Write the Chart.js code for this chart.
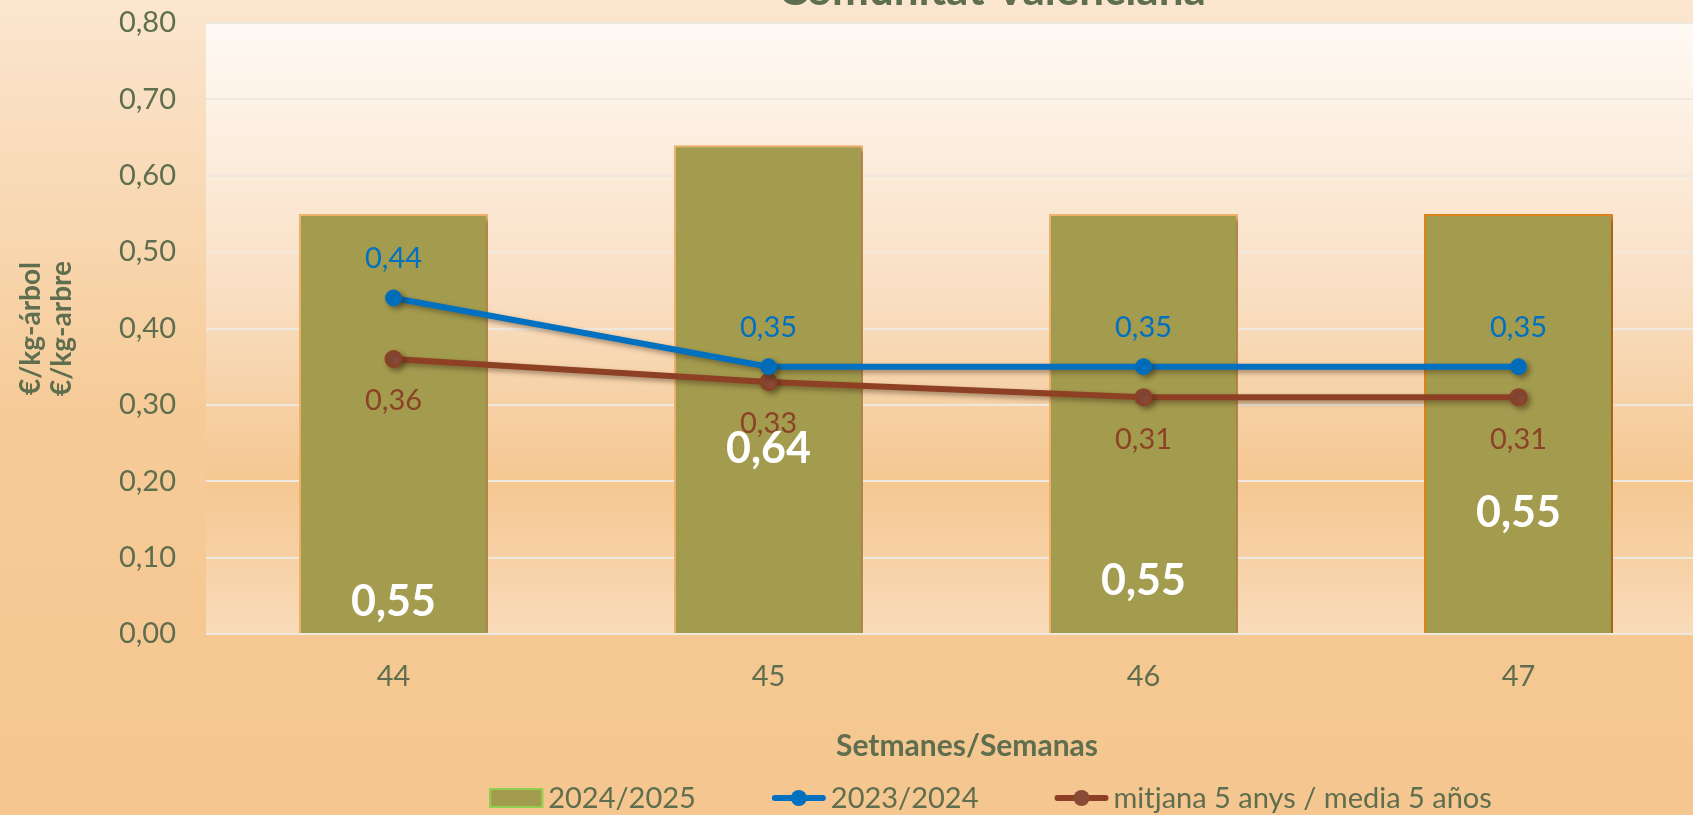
<!DOCTYPE html>
<html><head><meta charset="utf-8">
<script src="https://cdn.jsdelivr.net/npm/chart.js@4.4.1/dist/chart.umd.min.js"></script>
<style>
html,body{margin:0;padding:0;overflow:hidden;width:1693px;height:815px;background:#F5C68F;}
#wrap{position:absolute;left:0;top:0;width:1720px;height:815px;}
</style></head><body>
<div id="wrap"><canvas id="c"></canvas></div>
<script>
const TITLE = 'Comunitat Valenciana';
const weeks = ['44', '45', '46', '47'];
const season2425 = [0.55, 0.64, 0.55, 0.55];
const season2324 = [0.44, 0.35, 0.35, 0.35];
const avg5y = [0.36, 0.33, 0.31, 0.31];
const seriesNames = ['2024/2025', '2023/2024', 'mitjana 5 anys / media 5 años'];
const yAxisTitle = ['€/kg-árbol', '€/kg-arbre'];
const xAxisTitle = 'Setmanes/Semanas';
// where the white bar-value labels sit (axis units), as placed in the reference
const barLabelAt = [0.042, 0.242, 0.069, 0.158];

const GREEN = '#5E6E4E';
const FONT = 'Lato, "Open Sans", sans-serif';
const fmt = v => v.toFixed(2).replace('.', ',');

const bgPlugin = {
  id: 'bg',
  beforeDraw(chart) {
    const {ctx, width, height, chartArea: a} = chart;
    ctx.save();
    let g = ctx.createLinearGradient(0, 0, 0, height);
    g.addColorStop(0, '#FBE6CF');
    g.addColorStop(0.5, '#F6CB98');
    g.addColorStop(1, '#F5C68F');
    ctx.fillStyle = g; ctx.fillRect(0, 0, width, height);
    g = ctx.createLinearGradient(0, a.top, 0, a.bottom);
    g.addColorStop(0, '#FFFAF5');
    g.addColorStop(0.45, '#F9DEC1');
    g.addColorStop(0.75, '#F5C791');
    g.addColorStop(1, '#F9DBBA');
    ctx.fillStyle = g; ctx.fillRect(a.left, a.top, a.right - a.left, a.bottom - a.top);
    ctx.font = 'bold 44px ' + FONT; ctx.fillStyle = GREEN;
    ctx.textAlign = 'center'; ctx.textBaseline = 'alphabetic';
    ctx.fillText(TITLE, 992, 5);
    ctx.restore();
  }
};

const shadowPlugin = {
  id: 'shadow',
  beforeDatasetDraw(chart) {
    const ctx = chart.ctx; ctx.save();
    ctx.shadowColor = 'rgba(60,40,20,0.45)'; ctx.shadowBlur = 5;
    ctx.shadowOffsetX = 3; ctx.shadowOffsetY = 3;
  },
  afterDatasetDraw(chart) { chart.ctx.restore(); }
};

const labelPlugin = {
  id: 'labels',
  afterDatasetsDraw(chart) {
    const {ctx, scales: {y}} = chart;
    ctx.save(); ctx.textAlign = 'center'; ctx.textBaseline = 'middle';
    ctx.font = '29px ' + FONT;
    chart.getDatasetMeta(1).data.forEach((el, i) => {
      ctx.fillStyle = '#0070C0'; ctx.fillText(fmt(season2324[i]), el.x, el.y - 39);
    });
    chart.getDatasetMeta(2).data.forEach((el, i) => {
      ctx.fillStyle = '#8B4226'; ctx.fillText(fmt(avg5y[i]), el.x, el.y + 42);
    });
    ctx.font = 'bold 43px ' + FONT; ctx.fillStyle = '#FFFFFF';
    chart.getDatasetMeta(0).data.forEach((el, i) => {
      ctx.fillText(fmt(season2425[i]), el.x, y.getPixelForValue(barLabelAt[i]));
    });
    ctx.restore();
  }
};

const legendPlugin = {
  id: 'customLegend',
  afterDraw(chart) {
    const ctx = chart.ctx; const yc = 798;
    ctx.save();
    // x-axis title
    ctx.font = 'bold 30px ' + FONT; ctx.fillStyle = GREEN;
    ctx.textAlign = 'center'; ctx.textBaseline = 'middle';
    ctx.fillText(xAxisTitle, 967, 746);
    ctx.font = '29px ' + FONT; ctx.textBaseline = 'middle'; ctx.textAlign = 'left';
    const mW = 54, gapT = 5, gapI = 76;
    const ds = chart.data.datasets;
    const widths = ds.map(d => ctx.measureText(d.label).width);
    const total = widths.reduce((s, w) => s + mW + gapT + w, 0) + gapI * (ds.length - 1);
    let x = 990.5 - total / 2;
    ds.forEach((d, i) => {
      if (d.type === 'bar') {
        ctx.fillStyle = d.backgroundColor; ctx.fillRect(x, yc - 9, mW, 18);
        ctx.strokeStyle = '#92D050'; ctx.lineWidth = 2; ctx.strokeRect(x + 1, yc - 9, mW - 2, 18);
      } else {
        ctx.strokeStyle = d.borderColor; ctx.lineWidth = 6; ctx.lineCap = 'round';
        ctx.beginPath(); ctx.moveTo(x + 3, yc); ctx.lineTo(x + mW - 3, yc); ctx.stroke();
        ctx.fillStyle = d.pointBackgroundColor; ctx.beginPath();
        ctx.arc(x + mW / 2, yc, 8, 0, Math.PI * 2); ctx.fill();
      }
      ctx.fillStyle = GREEN; ctx.fillText(d.label, x + mW + gapT, yc + 1);
      x += mW + gapT + widths[i] + gapI;
    });
    ctx.restore();
  }
};

new Chart(document.getElementById('c'), {
  type: 'bar',
  data: {
    labels: weeks,
    datasets: [
      {type: 'bar', label: seriesNames[0], data: season2425, backgroundColor: '#A39B4E',
       borderColor: ['#F3B46C', '#F3B46C', '#F3B46C', '#E2841B'], borderWidth: 2,
       barPercentage: 0.504, categoryPercentage: 1, order: 3},
      {type: 'line', label: seriesNames[1], data: season2324, borderColor: '#0070C0', borderWidth: 6,
       pointRadius: 8, pointBackgroundColor: '#0070C0', pointBorderColor: '#0070C0', pointBorderWidth: 1,
       tension: 0, order: 1},
      {type: 'line', label: seriesNames[2], data: avg5y, borderColor: '#8E4024', borderWidth: 6,
       pointRadius: 8, pointBackgroundColor: '#8A4A36', pointBorderColor: '#8E4024', pointBorderWidth: 2,
       tension: 0, order: 2}
    ]
  },
  options: {
    responsive: true, maintainAspectRatio: false, animation: false,
    layout: {padding: {top: 23, right: 14, left: 0, bottom: 0}},
    plugins: {legend: {display: false}, tooltip: {enabled: false}},
    scales: {
      x: {
        grid: {display: false}, border: {display: false},
        ticks: {color: GREEN, font: {family: FONT, size: 29}, padding: 17},
        afterFit(s) { s.height = 181; }
      },
      y: {
        min: 0, max: 0.8,
        ticks: {stepSize: 0.1, color: GREEN, font: {family: FONT, size: 29}, padding: 30,
                callback: v => fmt(v)},
        grid: {color: '#EEE8DF', lineWidth: 2, drawTicks: false},
        border: {display: false},
        title: {display: true, text: yAxisTitle, color: GREEN,
                font: {family: FONT, size: 28, weight: 'bold', lineHeight: 1.1}, padding: {top: 16, bottom: 0}},
        afterFit(s) { s.width = 206; s.paddingTop = 0; s.paddingBottom = 0; }
      }
    }
  },
  plugins: [bgPlugin, shadowPlugin, labelPlugin, legendPlugin]
});
</script>
</body></html>
